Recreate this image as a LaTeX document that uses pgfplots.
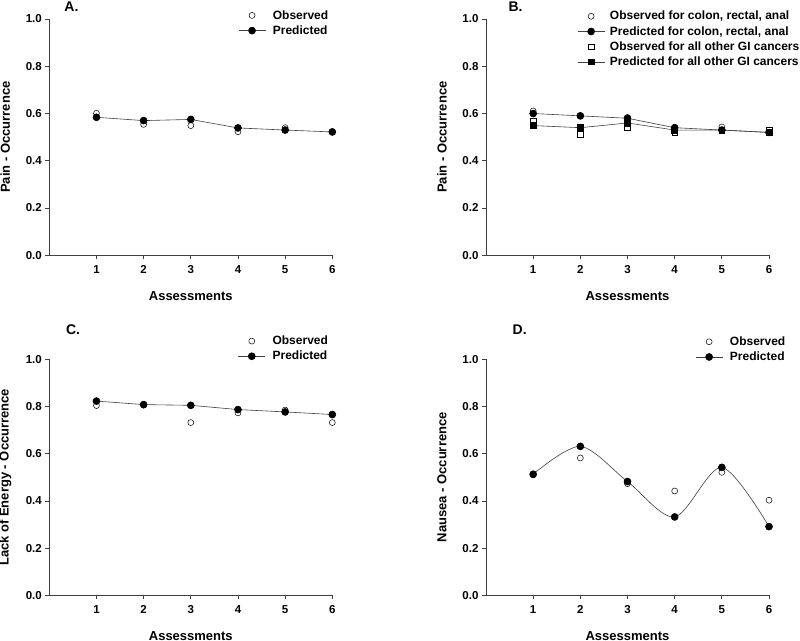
\documentclass[border=0pt]{standalone}
\usepackage{pgfplots}
\pgfplotsset{compat=1.18}
\usepackage{fontspec}
\setmainfont{Liberation Sans}
\begin{document}
\begin{tikzpicture}[x=1pt,y=1pt]
\pgfplotsset{
  panel/.style={
    width=283pt, height=236.3pt, scale only axis,
    xmin=0, xmax=6, ymin=0, ymax=1,
    axis lines*=left,
    axis line style={black!75, line width=0.7pt},
    tick style={black!75, line width=0.7pt},
    tick align=outside,
    major tick length=4pt,
    xtick={1,2,3,4,5,6},
    ytick={0,0.2,0.4,0.6,0.8,1.0},
    /pgf/number format/assume math mode=true,
    yticklabel style={/pgf/number format/fixed, /pgf/number format/fixed zerofill, /pgf/number format/precision=1},
    xticklabel style={yshift=-3pt},
    ticklabel style={font=\bfseries\fontsize{11.5}{12}\selectfont},
    xlabel={Assessments},
    xlabel style={font=\bfseries\fontsize{13}{14}\selectfont, at={(axis description cs:0.5,-0.1735)}, anchor=center},
    ylabel style={font=\bfseries\fontsize{13}{14}\selectfont, at={(axis description cs:-0.1555,0.5)}, anchor=center},
    every axis title shift=0pt,
    title style={font=\bfseries\fontsize{14}{16}\selectfont, anchor=west, yshift=0pt},
    legend cell align=left,
    legend style={draw=none, fill=none, font=\bfseries\fontsize{12}{13}\selectfont, anchor=west, inner sep=0pt, row sep=1pt, column sep=5pt},
    legend image code/.code={\draw[mark repeat=2,mark phase=2,##1] plot coordinates {(0pt,0pt)(13.5pt,0pt)(27pt,0pt)};},
  },
  obs/.style={only marks, mark=*, mark options={fill=white, draw=black, line width=0.5pt}, mark size=3pt},
  pred/.style={color=black!75, line width=0.6pt, mark=*, mark options={fill=black, draw=black}, mark size=3.5pt},
  obsq/.style={only marks, mark=square*, mark options={fill=white, draw=black, line width=0.5pt}, mark size=2.8pt},
  predq/.style={color=black!75, line width=0.6pt, mark=square*, mark options={fill=black, draw=black}, mark size=2.9pt},
}
\path[use as bounding box] (0,0) rectangle (800,640);

% Panel A
\begin{axis}[panel, at={(49.3pt,384.7pt)}, anchor=south west,
  ylabel={Pain - Occurrence},
  title={A.}, title style={at={(axis description cs:0.041,1.051)}},
  legend style={at={(axis description cs:0.667,0.983)}}]
\addplot[obs] coordinates {(1,0.601)(2,0.554)(3,0.549)(4,0.523)(5,0.540)(6,0.523)};
\addlegendentry{Observed}
\addplot[pred] coordinates {(1,0.584)(2,0.570)(3,0.575)(4,0.539)(5,0.530)(6,0.522)};
\addlegendentry{Predicted}
\end{axis}

% Panel B
\begin{axis}[panel, at={(486pt,384.7pt)}, anchor=south west,
  ylabel={Pain - Occurrence},
  title={B.}, title style={at={(axis description cs:0.067,1.051)}},
  legend style={at={(axis description cs:0.322,0.915)}, column sep=3pt}]
\addplot[obs] coordinates {(1,0.611)(2,0.590)(3,0.583)(4,0.540)(5,0.543)(6,0.520)};
\addlegendentry{Observed for colon, rectal, anal}
\addplot[pred] coordinates {(1,0.600)(2,0.590)(3,0.580)(4,0.540)(5,0.530)(6,0.520)};
\addlegendentry{Predicted for colon, rectal, anal}
\addplot[obsq] coordinates {(1,0.570)(2,0.512)(3,0.539)(4,0.519)(5,0.530)(6,0.530)};
\addlegendentry{Observed for all other GI cancers}
\addplot[predq] coordinates {(1,0.549)(2,0.540)(3,0.560)(4,0.530)(5,0.530)(6,0.520)};
\addlegendentry{Predicted for all other GI cancers}
\end{axis}

% Panel C
\begin{axis}[panel, at={(49.3pt,44.7pt)}, anchor=south west, height=236pt,
  ylabel={Lack of Energy - Occurrence},
  title={C.}, title style={at={(axis description cs:0.047,1.127)}},
  legend style={at={(axis description cs:0.666,1.045)}}]
\addplot[obs] coordinates {(1,0.804)(2,0.806)(3,0.732)(4,0.773)(5,0.785)(6,0.732)};
\addlegendentry{Observed}
\addplot[pred] coordinates {(1,0.823)(2,0.808)(3,0.805)(4,0.787)(5,0.777)(6,0.766)};
\addlegendentry{Predicted}
\end{axis}

% Panel D
\begin{axis}[panel, at={(486pt,44.7pt)}, anchor=south west, height=236pt,
  ylabel={Nausea - Occurrence},
  title={D.}, title style={at={(axis description cs:0.082,1.127)}},
  legend style={at={(axis description cs:0.739,1.042)}}]
\addplot[obs] coordinates {(1,0.510)(2,0.582)(3,0.473)(4,0.442)(5,0.521)(6,0.403)};
\addlegendentry{Observed}
\addplot[pred, smooth] coordinates {(1,0.513)(2,0.631)(3,0.482)(4,0.332)(5,0.542)(6,0.291)};
\addlegendentry{Predicted}
\end{axis}
\end{tikzpicture}
\end{document}
